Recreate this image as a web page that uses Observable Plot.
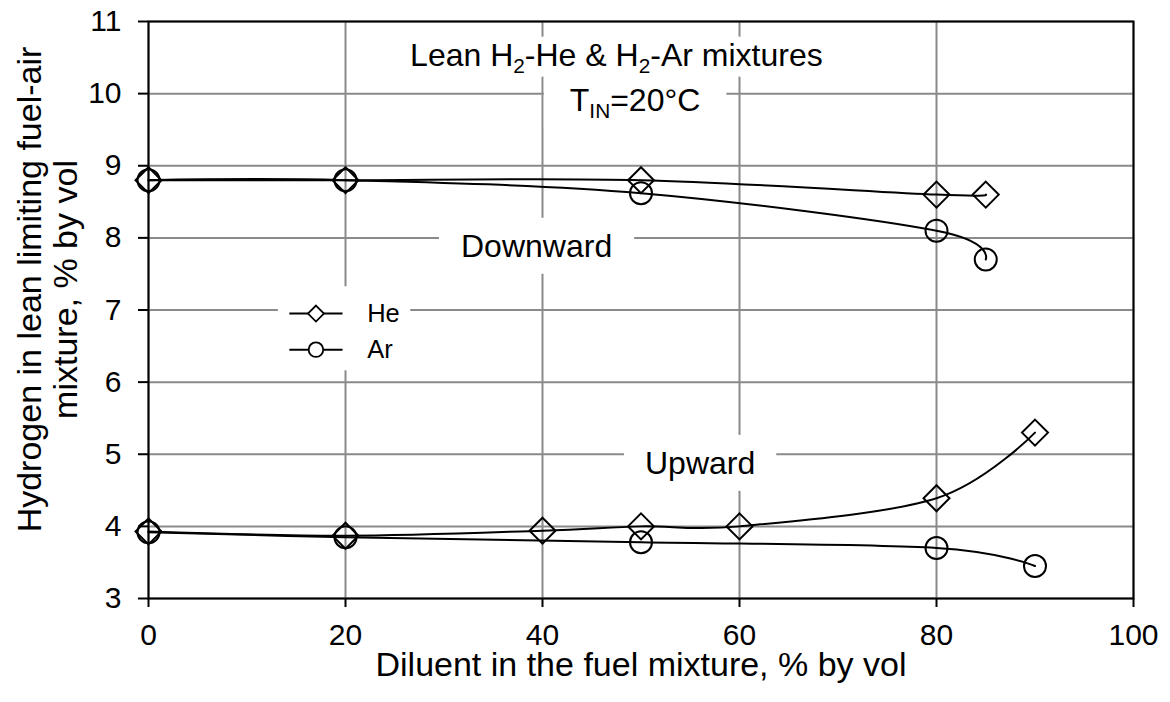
<!DOCTYPE html>
<html><head><meta charset="utf-8">
<script src="https://cdn.jsdelivr.net/npm/d3@7"></script>
<script src="https://cdn.jsdelivr.net/npm/@observablehq/plot@0.6"></script>
<style>
html,body{margin:0;padding:0;background:#fff;}
#chart{width:1170px;height:702px;}
</style></head><body><div id="chart"></div>
<script>
// ---- data ----
const gases = ["He", "Ar"];
const xTicks = [0, 20, 40, 60, 80, 100];
const yTicks = [3, 4, 5, 6, 7, 8, 9, 10, 11];

const downHeX = [0, 20, 50, 80, 85];
const downHeY = [8.8, 8.8, 8.8, 8.6, 8.6];
const downArX = [0, 20, 50, 80, 85];
const downArY = [8.8, 8.8, 8.62, 8.1, 7.7];
const upHeX = [0, 20, 40, 50, 60, 80, 90];
const upHeY = [3.93, 3.87, 3.94, 4.0, 4.0, 4.39, 5.3];
const upArX = [0, 20, 50, 80, 90];
const upArY = [3.92, 3.85, 3.78, 3.7, 3.45];

const xTitle = "Diluent in the fuel mixture, % by vol";
const yTitle = "Hydrogen in lean limiting fuel-air\nmixture, % by vol";

// annotation texts ({...} = subscript)
const annotations = [
  {text: "Lean H{2}-He & H{2}-Ar mixtures", x: 47.5, y: 10.53, padX: 10, padY: 0},
  {text: "T{IN}=20°C", x: 49.4, y: 9.9, padX: 26, padY: 6},
  {text: "Downward", x: 39.4, y: 7.88, padX: 22, padY: 10},
  {text: "Upward", x: 56.0, y: 4.87, padX: 21, padY: 10}
];

// legend layout (data units)
const legendLayout = {x1: 14.3, x2: 19.7, xMark: 17, xText: 22.2, y: {He: 6.95, Ar: 6.45}};

// ---- build table ----
const rows = [];
function addSeries(gas, dir, xs, ys) { xs.forEach((x, i) => rows.push({gas, dir, x, y: ys[i]})); }
addSeries("He", "down", downHeX, downHeY);
addSeries("Ar", "down", downArX, downArY);
addSeries("He", "up", upHeX, upHeY);
addSeries("Ar", "up", upArX, upArY);
const legendRows = gases.map(g => ({gas: g, y: legendLayout.y[g]}));

const font = "'Liberation Sans', Arial, sans-serif";

const svg = Plot.plot({
  width: 1170, height: 702,
  marginLeft: 148, marginRight: 37, marginTop: 21, marginBottom: 104,
  x: {domain: [0, 100]},
  y: {domain: [3, 11]},
  style: {fontFamily: font, background: "white", color: "black"},
  marks: [
    Plot.gridX({ticks: xTicks, stroke: "#8a8a8a", strokeOpacity: 1, strokeWidth: 2}),
    Plot.gridY({ticks: yTicks, stroke: "#8a8a8a", strokeOpacity: 1, strokeWidth: 2}),
    Plot.text(annotations, {x: "x", y: "y", text: "text", fontSize: 32, fill: "black", className: "boxed"}),
    Plot.link(legendRows, {x1: () => legendLayout.x1, x2: () => legendLayout.x2, y1: "y", y2: "y", stroke: "black", strokeWidth: 2, className: "legend"}),
    Plot.dot(legendRows.filter(d => d.gas === "He"), {x: () => legendLayout.xMark, y: "y", symbol: "diamond2", r: 7.2, stroke: "black", strokeWidth: 1.8, fill: "white", className: "legend"}),
    Plot.dot(legendRows.filter(d => d.gas === "Ar"), {x: () => legendLayout.xMark, y: "y", symbol: "circle", r: 7.3, stroke: "black", strokeWidth: 1.8, fill: "white", className: "legend"}),
    Plot.text(legendRows, {x: () => legendLayout.xText, y: "y", text: "gas", textAnchor: "start", fontSize: 25.5, fill: "black", className: "legend"}),
    Plot.frame({stroke: "black", strokeWidth: 2}),
    Plot.axisX({ticks: xTicks, tickSize: 9, tickPadding: 16, fontSize: 30, stroke: "black", strokeWidth: 2, fill: "black", label: null}),
    Plot.axisY({ticks: yTicks, tickSize: 10, tickPadding: 17, fontSize: 30, stroke: "black", strokeWidth: 2, fill: "black", label: null}),
    Plot.text([xTitle], {frameAnchor: "bottom", text: d => d, dy: 67, fontSize: 34, fill: "black", textAnchor: "middle", lineAnchor: "middle"}),
    Plot.text([yTitle], {frameAnchor: "left", text: d => d, rotate: -90, dx: -101, dy: -20.5, fontSize: 34, lineHeight: 1.04, fill: "black", textAnchor: "middle", lineAnchor: "middle"}),
    Plot.line(rows, {x: "x", y: "y", z: d => d.gas + d.dir, curve: "cardinal", stroke: "black", strokeWidth: 2}),
    Plot.dot(rows.filter(d => d.gas === "He"), {x: "x", y: "y", symbol: "diamond2", r: 11.7, stroke: "black", strokeWidth: 2, fill: "none"}),
    Plot.dot(rows.filter(d => d.gas === "Ar"), {x: "x", y: "y", symbol: "circle", r: 11, stroke: "black", strokeWidth: 2, fill: "none"})
  ]
});
document.getElementById("chart").append(svg);

// ---- subscripts + white label boxes ----
const NS = "http://www.w3.org/2000/svg";
function subscriptify(textEl) {
  const raw = textEl.textContent;
  if (!raw.includes("{")) return;
  const fs = parseFloat(getComputedStyle(textEl).fontSize) || 32;
  textEl.textContent = "";
  const parts = raw.split(/(\{[^}]*\})/).filter(p => p);
  let shifted = false;
  for (const p of parts) {
    const sub = p[0] === "{";
    const ts = document.createElementNS(NS, "tspan");
    ts.textContent = sub ? p.slice(1, -1) : p;
    if (sub) { ts.setAttribute("font-size", (fs * 0.65).toFixed(1)); ts.setAttribute("dy", (fs * 0.22).toFixed(1)); shifted = true; }
    else if (shifted) { ts.setAttribute("dy", (-fs * 0.22).toFixed(1)); shifted = false; }
    textEl.appendChild(ts);
  }
}
svg.querySelectorAll("g.boxed").forEach(g => {
  const texts = Array.from(g.querySelectorAll("text"));
  texts.forEach(subscriptify);
  const rects = texts.map((t, i) => {
    const bb = t.getBBox();
    const a = annotations[i];
    const r = document.createElementNS(NS, "rect");
    r.setAttribute("x", bb.x - a.padX);
    r.setAttribute("y", bb.y - a.padY);
    r.setAttribute("width", bb.width + 2 * a.padX);
    r.setAttribute("height", bb.height + 2 * a.padY);
    r.setAttribute("fill", "white");
    r.setAttribute("stroke", "none");
    const tr = t.getAttribute("transform");
    if (tr) r.setAttribute("transform", tr);
    return r;
  });
  rects.forEach(r => g.insertBefore(r, g.firstChild));
});
const legendGroups = Array.from(svg.querySelectorAll("g.legend"));
if (legendGroups.length) {
  let x0 = Infinity, y0 = Infinity, x1 = -Infinity, y1 = -Infinity;
  legendGroups.forEach(g => {
    const bb = g.getBBox();
    x0 = Math.min(x0, bb.x); y0 = Math.min(y0, bb.y);
    x1 = Math.max(x1, bb.x + bb.width); y1 = Math.max(y1, bb.y + bb.height);
  });
  const r = document.createElementNS(NS, "rect");
  r.setAttribute("x", x0 - 11); r.setAttribute("y", y0 - 12);
  r.setAttribute("width", x1 - x0 + 22); r.setAttribute("height", y1 - y0 + 20);
  r.setAttribute("fill", "white");
  legendGroups[0].parentNode.insertBefore(r, legendGroups[0]);
}
</script></body></html>
